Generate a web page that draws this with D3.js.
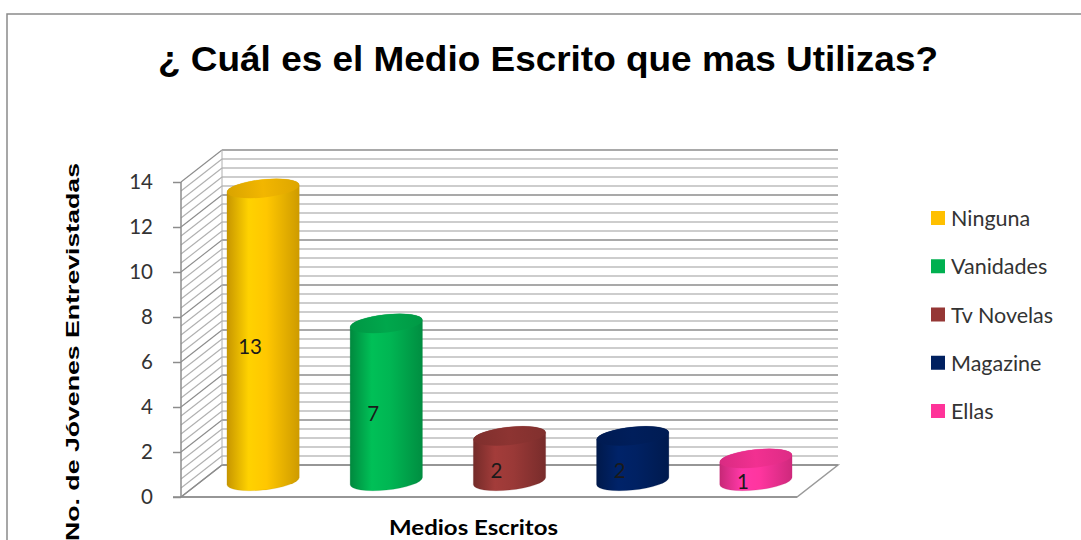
<!DOCTYPE html>
<html>
<head>
<meta charset="utf-8">
<script src="https://cdn.jsdelivr.net/npm/d3@7"></script>
<style>
  html, body { margin: 0; padding: 0; background: #fff; }
  svg { display: block; }
</style>
</head>
<body>
<svg id="chart" width="1081" height="540"></svg>
<script>
const categories = ["Ninguna", "Vanidades", "Tv Novelas", "Magazine", "Ellas"];
const values = [13, 7, 2, 2, 1];
const colors = ["#FFC000", "#00B050", "#953735", "#002060", "#FF3399"];
const yTicks = [0, 2, 4, 6, 8, 10, 12, 14];
const titleText = "¿ Cuál es el Medio Escrito que mas Utilizas?";
const yLabel = "No. de Jóvenes Entrevistadas";
const xLabel = "Medios Escritos";

const svg = d3.select("#chart");

// frame
svg.append("rect").attr("x", 7).attr("y", 14).attr("width", 1100).attr("height", 600)
  .attr("fill", "#fff").attr("stroke", "#8a8a8a").attr("stroke-width", 1.5);

// geometry
const front = {x0: 181, x1: 797, y0: 497, y1: 182};
const depth = {dx: 41, dy: -32};
const y = d3.scaleLinear().domain([0, 14]).range([front.y0, front.y1]);
const x = d3.scaleBand().domain(categories).range([front.x0, front.x1])
  .paddingInner(0.41).paddingOuter(0.205);

const minor = d3.range(0, 14.001, 0.4);
const isMajor = v => Math.abs(v / 2 - Math.round(v / 2)) < 1e-6;

const g = svg.append("g");

// floor
const floorPts = [
  [front.x0, y(0)], [front.x0 + depth.dx, y(0) + depth.dy],
  [front.x1 + depth.dx, y(0) + depth.dy], [front.x1, y(0)]
];
g.append("path").attr("d", d3.line()(floorPts) + "Z")
  .attr("fill", "#fff").attr("stroke", "#9a9a9a").attr("stroke-width", 1.5);

// back wall grid lines
g.selectAll("line.bg").data(minor).enter().append("line")
  .attr("x1", front.x0 + depth.dx).attr("x2", front.x1 + depth.dx)
  .attr("y1", d => y(d) + depth.dy).attr("y2", d => y(d) + depth.dy)
  .attr("stroke", d => isMajor(d) ? "#8c8c8c" : "#bdbdbd")
  .attr("stroke-width", 1.4);

// side wall diagonals
g.selectAll("line.sg").data(minor).enter().append("line")
  .attr("x1", front.x0).attr("x2", front.x0 + depth.dx)
  .attr("y1", d => y(d)).attr("y2", d => y(d) + depth.dy)
  .attr("stroke", d => isMajor(d) ? "#8c8c8c" : "#b0b0b0")
  .attr("stroke-width", 1.1);

// back-left vertical edge
g.append("line").attr("x1", front.x0 + depth.dx).attr("x2", front.x0 + depth.dx)
  .attr("y1", y(14) + depth.dy).attr("y2", y(0) + depth.dy)
  .attr("stroke", "#b0b0b0").attr("stroke-width", 1);

// y axis
const yAxis = d3.axisLeft(y).tickValues(yTicks).tickSize(8).tickPadding(20);
const ya = g.append("g").attr("transform", `translate(${front.x0},0)`).call(yAxis);
ya.select(".domain").attr("stroke", "#8c8c8c").attr("stroke-width", 1.5)
  .attr("d", `M0,${y(14)}V${y(0)}`);
ya.selectAll(".tick line").attr("stroke", "#8c8c8c").attr("stroke-width", 1.5);
ya.selectAll(".tick text").attr("font-family", "Lato, 'Open Sans', sans-serif")
  .attr("font-size", 20.5).attr("fill", "#333");

// front floor edge (over axis)
g.append("line").attr("x1", front.x0 - 8).attr("x2", front.x1)
  .attr("y1", y(0)).attr("y2", y(0)).attr("stroke", "#8c8c8c").attr("stroke-width", 1.5);

// cylinders
const defs = svg.append("defs");
const mid = {dx: depth.dx / 2, dy: depth.dy / 2};
const rx = x.bandwidth() / 2, ry = 9, theta = -6;
const th = theta * Math.PI / 180;

function ellPoint(cx, cy, t) {
  return [cx + rx * Math.cos(t) * Math.cos(th) - ry * Math.sin(t) * Math.sin(th),
          cy + rx * Math.cos(t) * Math.sin(th) + ry * Math.sin(t) * Math.cos(th)];
}
const t0 = Math.atan2(-ry * Math.sin(th), rx * Math.cos(th));

categories.forEach((c, i) => {
  const col = d3.color(colors[i]);
  const gid = "grad" + i;
  const lg = defs.append("linearGradient").attr("id", gid)
    .attr("x1", "0%").attr("x2", "100%").attr("y1", "0%").attr("y2", "0%");
  lg.append("stop").attr("offset", "0%").attr("stop-color", col.darker(0.7));
  lg.append("stop").attr("offset", "30%").attr("stop-color", col.brighter(0.25));
  lg.append("stop").attr("offset", "55%").attr("stop-color", col.brighter(0.1));
  lg.append("stop").attr("offset", "100%").attr("stop-color", col.darker(0.6));
  const tid = "top" + i;
  const tg = defs.append("linearGradient").attr("id", tid)
    .attr("x1", "0%").attr("x2", "100%").attr("y1", "0%").attr("y2", "0%");
  tg.append("stop").attr("offset", "0%").attr("stop-color", col.darker(0.45));
  tg.append("stop").attr("offset", "50%").attr("stop-color", col.darker(0.15));
  tg.append("stop").attr("offset", "100%").attr("stop-color", col.darker(0.4));

  const cx = x(c) + x.bandwidth() / 2 + mid.dx;
  const cyB = y(0) + mid.dy;
  const cyT = y(values[i]) + mid.dy;
  const pR = ellPoint(0, 0, t0), pL = ellPoint(0, 0, t0 + Math.PI);
  const R = pR[0] > pL[0] ? pR : pL, L = pR[0] > pL[0] ? pL : pR;
  const d = `M${cx + L[0]},${cyT + L[1]}` +
    `L${cx + L[0]},${cyB + L[1]}` +
    `A${rx},${ry} ${theta} 0 0 ${cx + R[0]},${cyB + R[1]}` +
    `L${cx + R[0]},${cyT + R[1]}` +
    `A${rx},${ry} ${theta} 0 0 ${cx + L[0]},${cyT + L[1]}Z`;
  g.append("path").attr("d", d).attr("fill", `url(#${gid})`)
    .attr("stroke", col.darker(0.8)).attr("stroke-width", 0.4).attr("stroke-opacity", 0.5);
  g.append("ellipse").attr("cx", cx).attr("cy", cyT).attr("rx", rx).attr("ry", ry)
    .attr("transform", `rotate(${theta},${cx},${cyT})`)
    .attr("fill", `url(#${tid})`);

  // data label
  g.append("text").attr("x", cx - 13).attr("y", (y(values[i]) + y(0)) / 2 - 5)
    .attr("text-anchor", "middle").attr("dominant-baseline", "central")
    .attr("font-family", "Lato, 'Open Sans', sans-serif").attr("font-size", 20.5)
    .attr("fill", "#1a1a1a").text(values[i]);
});

// title
svg.append("text").attr("x", 548).attr("y", 71).attr("text-anchor", "middle")
  .attr("font-family", "'Liberation Sans', Arial, sans-serif").attr("font-weight", "bold")
  .attr("font-size", 35).attr("textLength", 780).attr("lengthAdjust", "spacingAndGlyphs")
  .attr("fill", "#000").text(titleText);

// y label
svg.append("text").attr("transform", "translate(79,352) rotate(-90)")
  .attr("text-anchor", "middle")
  .attr("font-family", "'Liberation Sans', Arial, sans-serif").attr("font-weight", "bold")
  .attr("font-size", 18).attr("textLength", 378).attr("lengthAdjust", "spacingAndGlyphs")
  .attr("fill", "#000").text(yLabel);

// x label
svg.append("text").attr("x", 473.5).attr("y", 535).attr("text-anchor", "middle")
  .attr("font-family", "Lato, 'Open Sans', sans-serif").attr("font-weight", "bold")
  .attr("font-size", 20).attr("textLength", 169).attr("lengthAdjust", "spacingAndGlyphs")
  .attr("fill", "#000").text(xLabel);

// legend
const leg = svg.append("g");
const legY = d3.scalePoint().domain(categories).range([218, 411]);
categories.forEach((c, i) => {
  leg.append("rect").attr("x", 931).attr("y", legY(c) - 7).attr("width", 14).attr("height", 14)
    .attr("fill", colors[i]);
  leg.append("text").attr("x", 951).attr("y", legY(c)).attr("dominant-baseline", "central")
    .attr("font-family", "Lato, 'Open Sans', sans-serif").attr("font-size", 21.5)
    .attr("fill", "#333").text(c);
});
</script>
</body>
</html>
